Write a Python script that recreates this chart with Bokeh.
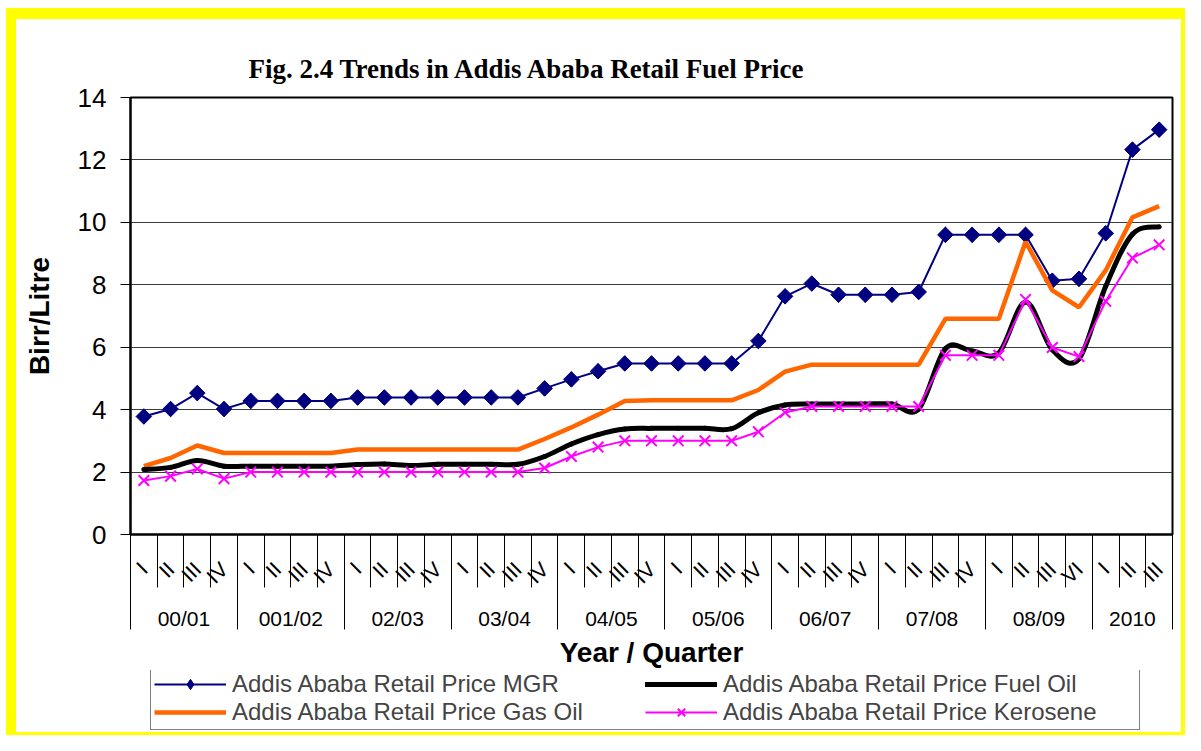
import math
import numpy as np
from bokeh.plotting import figure
from bokeh.models import (Range1d, LinearAxis, FixedTicker, SingleIntervalTicker,
                          Legend, LegendItem)
from bokeh.layouts import column
from bokeh.embed import file_html
from bokeh.resources import INLINE

# ---------------- data ----------------
years = ["00/01", "001/02", "02/03", "03/04", "04/05", "05/06", "06/07", "07/08", "08/09", "2010"]
quarters_by_year = [
    ["I", "II", "III", "IV"], ["I", "II", "III", "IV"], ["I", "II", "III", "IV"],
    ["I", "II", "III", "IV"], ["I", "II", "III", "IV"], ["I", "II", "III", "IV"],
    ["I", "II", "III", "IV"], ["I", "II", "III", "IV"], ["I", "II", "III", "VI"],
    ["I", "II", "III"],
]

mgr = [3.78, 4.02, 4.53, 4.02, 4.28, 4.28, 4.28, 4.28, 4.39, 4.39, 4.39, 4.39,
       4.39, 4.39, 4.39, 4.68, 4.97, 5.23, 5.48, 5.48, 5.48, 5.48, 5.48, 6.20,
       7.63, 8.04, 7.68, 7.68, 7.68, 7.77, 9.60, 9.60, 9.60, 9.60, 8.13, 8.19,
       9.65, 12.33, 12.97]
gas_oil = [2.19, 2.45, 2.85, 2.61, 2.61, 2.61, 2.61, 2.61, 2.72, 2.72, 2.72, 2.72,
           2.72, 2.72, 2.72, 3.06, 3.43, 3.84, 4.28, 4.30, 4.30, 4.30, 4.30, 4.63,
           5.22, 5.44, 5.44, 5.44, 5.44, 5.44, 6.91, 6.91, 6.91, 9.38, 7.82, 7.28,
           8.46, 10.16, 10.52]
fuel_oil = [2.08, 2.15, 2.37, 2.19, 2.19, 2.19, 2.19, 2.19, 2.24, 2.26, 2.21, 2.25,
            2.25, 2.25, 2.25, 2.50, 2.90, 3.20, 3.38, 3.40, 3.40, 3.40, 3.39, 3.90,
            4.15, 4.18, 4.18, 4.18, 4.18, 4.02, 5.95, 5.88, 5.82, 7.45, 5.92, 5.63,
            7.95, 9.62, 9.86]
kerosene = [1.73, 1.87, 2.10, 1.79, 2.00, 2.00, 2.00, 2.00, 2.00, 2.00, 2.00, 2.00,
            2.00, 2.00, 2.00, 2.13, 2.50, 2.80, 3.00, 3.00, 3.00, 3.00, 3.00, 3.29,
            3.91, 4.10, 4.10, 4.10, 4.10, 4.10, 5.74, 5.74, 5.74, 7.53, 5.99, 5.70,
            7.47, 8.86, 9.28]

series_labels = ["Addis Ababa Retail Price MGR", "Addis Ababa Retail Price Gas Oil",
                 "Addis Ababa Retail Price Fuel Oil", "Addis Ababa Retail Price Kerosene"]

# ---------------- derived category positions ----------------
quarters = [q for qs in quarters_by_year for q in qs]
n = len(quarters)
x = np.arange(n)
counts = [len(qs) for qs in quarters_by_year]
bounds = np.concatenate([[0], np.cumsum(counts)]) - 0.5
year_centers = [float((bounds[i] + bounds[i + 1]) / 2) for i in range(len(years))]


def smooth_controls(xs, ys):
    """Bezier control points (Catmull-Rom style) for a smoothed line through the points."""
    ys = np.asarray(ys, dtype=float)
    xs = np.asarray(xs, dtype=float)
    py = np.concatenate([[ys[0]], ys, [ys[-1]]])
    px = np.concatenate([[xs[0]], xs, [xs[-1]]])
    k = np.arange(len(ys) - 1)
    return dict(x0=xs[:-1], y0=ys[:-1], x1=xs[1:], y1=ys[1:],
                cx0=xs[k] + (px[k + 2] - px[k]) / 6.0,
                cy0=ys[k] + (py[k + 2] - py[k]) / 6.0,
                cx1=xs[k + 1] - (px[k + 3] - px[k + 1]) / 6.0,
                cy1=ys[k + 1] - (py[k + 3] - py[k + 1]) / 6.0)


def draw_series(fig, with_rotated=True):
    l_mgr = fig.line(x, mgr, line_color="#000080", line_width=2)
    d_mgr = fig.scatter(x, mgr, marker="diamond", size=15,
                        fill_color="#000080", line_color="#000080")
    if with_rotated:
        fig.scatter(x, mgr, marker="square", angle=math.pi / 4, size=11,
                    fill_color="#000080", line_color="#000080")
    l_gas = fig.line(x, gas_oil, line_color="#FF6600", line_width=4.5)
    b_fuel = fig.bezier(**smooth_controls(x, fuel_oil),
                        line_color="black", line_width=5, line_cap="round")
    l_ker = fig.line(x, kerosene, line_color="#FF00FF", line_width=2)
    s_ker = fig.scatter(x, kerosene, marker="x", size=15, line_color="#FF00FF", line_width=2)
    return [[l_mgr, d_mgr], [l_gas], [b_fuel], [l_ker, s_ker]]


# ---------------- main figure ----------------
p = figure(width=1165, height=651, x_range=Range1d(-0.5, n - 0.5), y_range=Range1d(0, 14),
           output_backend="svg", toolbar_location=None, x_axis_location=None,
           min_border_left=114, min_border_right=9, min_border_top=78, min_border_bottom=134,
           background_fill_color="white", border_fill_color="white")

p.title.text = "Fig. 2.4 Trends in Addis Ababa Retail Fuel Price"
p.title.text_font = "Liberation Serif"
p.title.text_font_size = "27px"
p.title.text_font_style = "bold"
p.title.text_color = "black"
p.title.align = "left"
p.title.offset = 118
p.title.standoff = 28

p.outline_line_color = "black"
p.outline_line_width = 2

yax = p.yaxis[0]
yax.ticker = SingleIntervalTicker(interval=2, num_minor_ticks=0)
yax.axis_label = "Birr/Litre"
yax.axis_label_text_font = "Liberation Sans"
yax.axis_label_text_font_style = "bold"
yax.axis_label_text_font_size = "28px"
yax.axis_label_text_color = "black"
yax.axis_label_standoff = 20
yax.major_label_text_font = "Liberation Sans"
yax.major_label_text_font_size = "26px"
yax.major_label_text_color = "black"
yax.major_label_standoff = 14
yax.major_tick_out = 10
yax.major_tick_in = 0
yax.major_tick_line_color = "black"
yax.axis_line_color = "black"
yax.axis_line_width = 2

p.ygrid.grid_line_color = "#3a3a3a"
p.ygrid.grid_line_width = 1
p.xgrid.grid_line_color = None

# quarter axis (labels at quarter centres, separator lines at quarter boundaries)
qax = LinearAxis(
    ticker=FixedTicker(ticks=[float(v) for v in x],
                       minor_ticks=[float(v) for v in (np.arange(n + 1) - 0.5)]),
    major_label_overrides={float(i): q for i, q in zip(x, quarters)},
    major_tick_out=0, major_tick_in=0,
    minor_tick_out=53, minor_tick_in=0,
    minor_tick_line_color="black", minor_tick_line_width=1,
    major_label_orientation=math.pi / 4,
    major_label_text_font="Liberation Sans", major_label_text_font_size="21px",
    major_label_text_color="black",
    major_label_standoff=-22,
    axis_line_color="black", axis_line_width=2,
)
p.add_layout(qax, "below")

# year axis (labels at year centres, separator lines at year boundaries)
yrax = LinearAxis(
    ticker=FixedTicker(ticks=year_centers, minor_ticks=[float(b) for b in bounds]),
    major_label_overrides={c: yname for c, yname in zip(year_centers, years)},
    major_tick_out=0, major_tick_in=0,
    minor_tick_out=31, minor_tick_in=12,
    minor_tick_line_color="black", minor_tick_line_width=1,
    major_label_text_font="Liberation Sans", major_label_text_font_size="21px",
    major_label_text_color="black",
    major_label_standoff=-23,
    axis_line_color=None,
    axis_label="Year / Quarter",
    axis_label_text_font="Liberation Sans", axis_label_text_font_style="bold",
    axis_label_text_font_size="28px", axis_label_text_color="black",
    axis_label_standoff=4,
)
p.add_layout(yrax, "below")

draw_series(p, with_rotated=True)

# ---------------- legend strip (same series, kept outside its view range) ----------------
lg = figure(width=1165, height=62, x_range=Range1d(-0.5, n - 0.5), y_range=Range1d(1000, 1001),
            output_backend="svg", toolbar_location=None, x_axis_type=None, y_axis_type=None,
            min_border=0, outline_line_color=None,
            background_fill_color=None, border_fill_color="white")
leg_renderers = draw_series(lg, with_rotated=False)

legend = Legend(
    items=[LegendItem(label=lab, renderers=rs) for lab, rs in zip(series_labels, leg_renderers)],
    orientation="vertical", nrows=2, location=(20, 2),
    border_line_color="black", border_line_width=1,
    background_fill_color="white", background_fill_alpha=1.0,
    padding=3, spacing=0, margin=0,
    glyph_width=72, glyph_height=26, label_width=413, label_height=26, label_standoff=6,
    label_text_font="Liberation Sans", label_text_font_size="24px",
)
lg.add_layout(legend, "center")

inner = column(p, lg, styles={"background-color": "white",
                              "border-style": "solid",
                              "border-color": "#ffff00",
                              "border-width": "11px 4px 3px 10px"})
layout = column(inner, styles={"background-color": "white",
                               "border-top": "8px solid white",
                               "border-left": "6px solid white"})

open("out.html", "w").write(file_html(layout, INLINE))
